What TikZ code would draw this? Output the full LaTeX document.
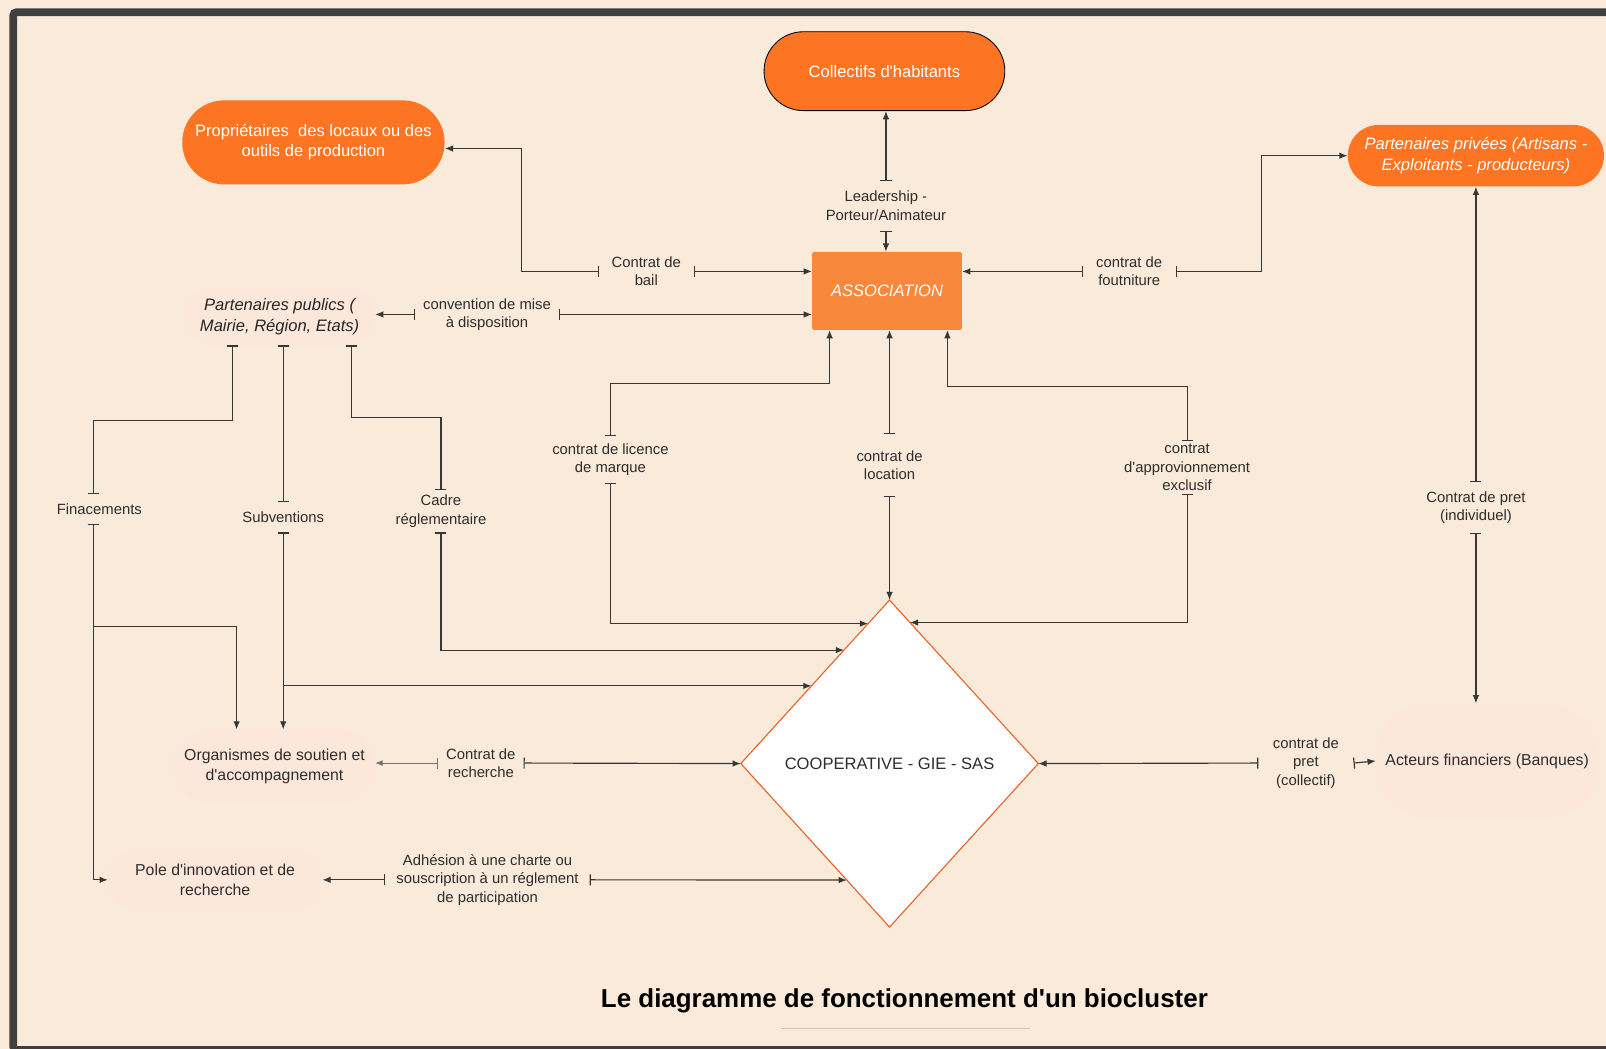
\documentclass[tikz,border=0pt]{standalone}
\usepackage{fontspec}
\setmainfont{Liberation Sans}
\usetikzlibrary{arrows.meta,shapes.geometric,calc}
\definecolor{bgpeach}{RGB}{250,234,218}
\definecolor{blobpeach}{RGB}{252,231,219}
\definecolor{orangefill}{RGB}{253,117,34}
\definecolor{assocfill}{RGB}{248,136,60}
\definecolor{diamondline}{RGB}{232,102,44}
\definecolor{linegray}{RGB}{55,55,55}
\definecolor{framegray}{RGB}{64,64,64}
\definecolor{textgray}{RGB}{45,45,45}

\tikzset{
  link/.style={draw=linegray, line width=0.8pt, {Bar[width=0.27cm]}-{Latex[length=0.2cm,width=0.16cm]}},
  thinlink/.style={draw=linegray!70, line width=0.5pt, {Bar[width=0.27cm]}-{Latex[length=0.18cm,width=0.14cm]}},
  barlink/.style={draw=linegray, line width=0.8pt, {Bar[width=0.27cm]}-{Bar[width=0.27cm]}},
  pill/.style={fill=orangefill, text=white, align=center, inner sep=0pt, font=\fontsize{11.5}{14}\selectfont},
  blob/.style={fill=blobpeach, text=textgray, align=center, inner sep=0pt, font=\fontsize{11}{14}\selectfont},
  lbl/.style={align=center, text=textgray, inner xsep=0.25cm, inner ysep=0.2cm, font=\fontsize{10.3}{12.8}\selectfont}
}

\begin{document}
\begin{tikzpicture}[x=0.025cm,y=-0.025cm]
\fill[bgpeach] (0,0) rectangle (1568,1024);
\useasboundingbox (0,0) rectangle (1568,1024);
\draw[framegray, line width=5.3pt, rounded corners=2pt] (13,12) rectangle (1620,1025);

\node[pill, draw=black, line width=0.6pt, minimum width=5.875cm, minimum height=1.925cm, rounded corners=0.96cm] (coll) at (863.5,69.5) {Collectifs d\textquotesingle habitants};
\node[pill, minimum width=6.4cm, minimum height=2.05cm, rounded corners=1.02cm] (prop) at (306,139) {Propriétaires\ \ des locaux ou des\\outils de production};
\node[pill, minimum width=6.25cm, minimum height=1.5cm, rounded corners=0.75cm, font=\fontsize{11.5}{14}\selectfont\itshape] (priv) at (1441,152) {Partenaires privées (Artisans -\\Exploitants - producteurs)};
\node[fill=assocfill, text=white, minimum width=3.65cm, minimum height=1.9cm, rounded corners=1pt, font=\fontsize{11.5}{14}\selectfont\itshape] (assoc) at (866,284) {ASSOCIATION};
\node[blob, minimum width=4.65cm, minimum height=1.4cm, rounded corners=0.7cm, text=black!85, font=\fontsize{11.5}{14.5}\selectfont\itshape] (pub) at (273,309) {Partenaires publics (\\Mairie, Région, Etats)};
\node[diamond, draw=diamondline, line width=0.8pt, fill=white, inner sep=0pt, outer sep=0pt, minimum width=7.26cm, minimum height=7.98cm, text=textgray, font=\fontsize{11.5}{14}\selectfont] (coop) at (868.5,745.5) {COOPERATIVE - GIE - SAS};
\node[blob, minimum width=4.9cm, minimum height=1.775cm, rounded corners=0.85cm] (org) at (268,748) {Organismes de soutien et\\d\textquotesingle accompagnement};
\node[blob, minimum width=5.225cm, minimum height=1.55cm, rounded corners=0.75cm] (pole) at (210,859) {Pole d\textquotesingle innovation et de\\recherche};
\node[blob, minimum width=5.425cm, minimum height=2.8cm, rounded corners=1.3cm] (act) at (1452,743) {Acteurs financiers (Banques)};

\node[lbl, inner ysep=0.25cm] (lead) at (865,201) {Leadership -\\Porteur/Animateur};
\node[lbl, inner xsep=0.3cm] (bail) at (631,265) {Contrat de\\bail};
\node[lbl, inner xsep=0.32cm] (four) at (1102.5,265) {contrat de\\foutniture};
\node[lbl, inner xsep=0.19cm] (conv) at (475.5,307) {convention de mise\\à disposition};
\node[lbl, inner ysep=0.17cm] (lic) at (596,449) {contrat de licence\\de marque};
\node[lbl, inner ysep=0.4cm] (loc) at (868.5,454) {contrat de\\location};
\node[lbl, inner ysep=0.07cm] (appr) at (1159,456.5) {contrat\\d\textquotesingle approvionnement\\exclusif};
\node[lbl, inner ysep=0.23cm] (fin) at (97,497) {Finacements};
\node[lbl, inner ysep=0.23cm] (subv) at (276.5,505) {Subventions};
\node[lbl, inner ysep=0.12cm] (cadre) at (430.5,499) {Cadre\\réglementaire};
\node[lbl, inner ysep=0.22cm] (pind) at (1441,495.5) {Contrat de pret\\(individuel)};
\node[lbl, inner xsep=0.19cm] (rech) at (469.5,745) {Contrat de\\recherche};
\node[lbl, inner xsep=0.35cm] (pcol) at (1275,745) {contrat de\\pret\\(collectif)};
\node[lbl, inner xsep=0.26cm] (adh) at (476,859) {Adhésion à une charte ou\\souscription à un réglement\\de participation};

\node[font=\fontsize{18}{22}\selectfont\bfseries, text=black] (title) at (883,977) {Le diagramme de fonctionnement d\textquotesingle un biocluster};
\draw[black!22, line width=1pt] (763,1004) -- (1006,1004);

\coordinate (lic-in) at ($(coop.north)!0.144!(coop.west)$);
\coordinate (appr-in) at ($(coop.north)!0.1375!(coop.east)$);
\coordinate (cadre-in) at ($(coop.north)!0.306!(coop.west)$);
\coordinate (subv-in) at ($(coop.north)!0.525!(coop.west)$);
\coordinate (adh-in) at ($(coop.south)!0.2875!(coop.west)$);
\coordinate (finjoin) at (231,612);

\draw[link] (lead.north) -- (lead.north |- coll.south);
\draw[link] (lead.south) -- (lead.south |- assoc.north);
\draw[link] (bail.west) -- ++(-76,0) |- ([yshift=-0.15cm]prop.east);
\draw[link] (bail.east) -- (bail.east -| assoc.west);
\draw[link] (four.west) -- (four.west -| assoc.east);
\draw[link] (four.east) -- ++(84,0) |- (priv.west);
\draw[link] (conv.west) -- (conv.west -| pub.east);
\draw[link] (conv.east) -- (conv.east -| assoc.west);
\draw[link] (lic.north) -- ++(0,-52) -| ($(assoc.south)+(-56,0)$);
\draw[link] (loc.north) -- (loc.north |- assoc.south);
\draw[link] (appr.north) -- ++(0,-53) -| ($(assoc.south)+(59,0)$);
\draw[link] (lic.south) |- (lic-in);
\draw[link] (loc.south) -- (coop.north);
\draw[link] (appr.south) |- (appr-in);
\draw[barlink] ($(pub.south)+(-46,0)$) -- ++(0,73) -| ($(fin.north)+(-6,0)$);
\draw[barlink] (subv.north |- pub.south) -- (subv.north);
\draw[barlink] ($(pub.south)+(70,0)$) -- ++(0,70) -| (cadre.north);
\draw[link] ($(fin.south)+(-6,0)$) |- (pole.west);
\draw[link] ($(fin.south)+(-6,0)$) |- (finjoin) -- (finjoin |- org.north);
\draw[link] (subv.south) -- (subv.south |- org.north);
\draw[link] (subv.south) |- (subv-in);
\draw[link] (cadre.south) |- (cadre-in);
\draw[thinlink] (rech.west) -- (rech.west -| org.east);
\draw[link] (rech.east) -- (coop.west);
\draw[link] (adh.west) -- (adh.west -| pole.east);
\draw[link] (adh.east) -- (adh-in);
\draw[link] (pcol.west) -- (coop.east);
\draw[link] (pcol.east) -- (act.west);
\draw[link] (pind.north) -- (pind.north |- priv.south);
\draw[link] (pind.south) -- (pind.south |- act.north);
\end{tikzpicture}
\end{document}
